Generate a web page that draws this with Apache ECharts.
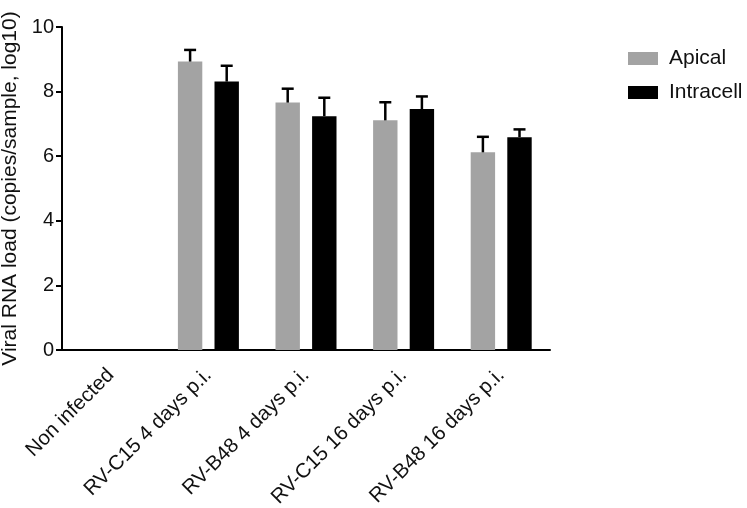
<!DOCTYPE html>
<html>
<head>
<meta charset="utf-8">
<script src="https://cdn.jsdelivr.net/npm/echarts@6/dist/echarts.min.js"></script>
<style>
html, body { margin: 0; padding: 0; background: #fff; }
#chart { width: 747px; height: 508px; }
</style>
</head>
<body>
<div id="chart"></div>
<script>
// data
const categories = ['Non infected', 'RV-C15 4 days p.i.', 'RV-B48 4 days p.i.', 'RV-C15 16 days p.i.', 'RV-B48 16 days p.i.'];
const apical = [0, 8.93, 7.66, 7.11, 6.12];
const apicalUpper = [null, 9.29, 8.09, 7.67, 6.60];
const intracell = [0, 8.31, 7.24, 7.46, 6.59];
const intracellUpper = [null, 8.80, 7.81, 7.85, 6.83];
const yTicks = [0, 2, 4, 6, 8, 10];

const myChart = echarts.init(document.getElementById('chart'));

function errData(means, uppers) {
    const out = [];
    for (let i = 0; i < means.length; i++) {
        if (uppers[i] != null) out.push([i, means[i], uppers[i]]);
    }
    return out;
}

function errRenderer(sign) {
    return function (params, api) {
        const band = api.size([1, 0])[0];
        const off = sign * band * 0.1875;
        const base = api.coord([api.value(0), api.value(1)]);
        const top = api.coord([api.value(0), api.value(2)]);
        const x = base[0] + off;
        const style = { stroke: '#000', lineWidth: 2.5 };
        return {
            type: 'group',
            children: [
                { type: 'line', shape: { x1: x, y1: base[1], x2: x, y2: top[1] }, style: style },
                { type: 'line', shape: { x1: x - 6, y1: top[1], x2: x + 6, y2: top[1] }, style: style }
            ]
        };
    };
}

const option = {
    animation: false,
    textStyle: { fontFamily: 'Liberation Sans, Arial, sans-serif' },
    legend: {
        orient: 'vertical',
        left: 623,
        top: 43,
        itemWidth: 30,
        itemHeight: 13,
        itemGap: 13,
        icon: 'rect',
        textStyle: { fontSize: 21, lineHeight: 14, color: '#111', padding: [0, 0, 0, 6] },
        data: ['Apical', 'Intracell']
    },
    grid: { left: 62, top: 27, right: 197, bottom: 158, outerBoundsMode: 'none', containLabel: false },
    xAxis: {
        type: 'category',
        data: categories,
        axisLine: { lineStyle: { color: '#000', width: 2 } },
        axisTick: { alignWithLabel: true, length: 6, lineStyle: { color: '#000', width: 2 } },
        axisLabel: { rotate: 45, fontSize: 20.5, color: '#111', margin: 22, interval: 0 }
    },
    yAxis: {
        type: 'value',
        min: 0,
        max: 10,
        interval: 2,
        name: 'Viral RNA load (copies/sample, log10)',
        nameLocation: 'middle',
        nameGap: 40,
        nameTextStyle: { fontSize: 21, color: '#111' },
        splitLine: { show: false },
        axisLine: { show: true, lineStyle: { color: '#000', width: 2 } },
        axisTick: { show: true, length: 6, lineStyle: { color: '#000', width: 2 } },
        axisLabel: {
            fontSize: 20, color: '#111', margin: 8,
            formatter: v => yTicks.includes(v) ? String(v) : ''
        }
    },
    series: [
        {
            name: 'Apical',
            type: 'bar',
            data: apical,
            barWidth: '25%',
            barGap: '50%',
            itemStyle: { color: '#a3a3a3' }
        },
        {
            name: 'Intracell',
            type: 'bar',
            data: intracell,
            barWidth: '25%',
            barGap: '50%',
            itemStyle: { color: '#000' }
        },
        {
            type: 'custom',
            renderItem: errRenderer(-1),
            data: errData(apical, apicalUpper),
            encode: { x: 0, y: [1, 2] },
            z: 3
        },
        {
            type: 'custom',
            renderItem: errRenderer(1),
            data: errData(intracell, intracellUpper),
            encode: { x: 0, y: [1, 2] },
            z: 3
        }
    ]
};

option && myChart.setOption(option);
</script>
</body>
</html>
